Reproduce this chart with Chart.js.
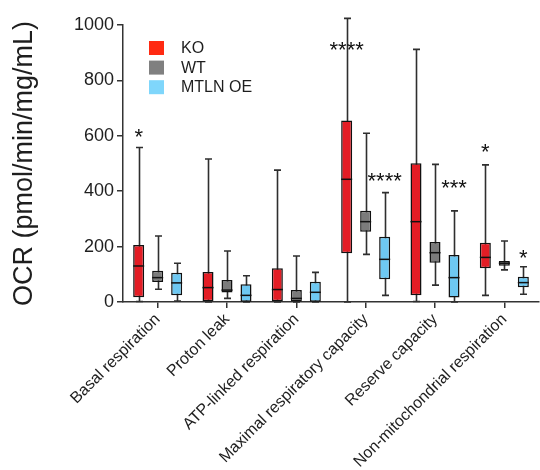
<!DOCTYPE html>
<html>
<head>
<meta charset="utf-8">
<script src="https://cdn.jsdelivr.net/npm/chart.js@4.4.1/dist/chart.umd.min.js"></script>
<style>
  html, body { margin: 0; padding: 0; background: #fff; }
  #wrap { width: 540px; height: 470px; position: relative; }
</style>
</head>
<body>
<div id="wrap"><canvas id="ocr"></canvas></div>
<script>
// --- data (pmol/min/mg/mL) ---
const categories = ["Basal respiration", "Proton leak", "ATP-linked respiration",
  "Maximal respiratory capacity", "Reserve capacity", "Non-mitochondrial respiration"];
const seriesNames = ["KO", "WT", "MTLN OE"];
const boxColors = ["#e31d25", "#7b7b7b", "#6ec8f2"];
const legendColors = ["#ff2a12", "#808080", "#7fd6fb"];

const koMin = [2, 0, 0, 0, 2, 24];
const koQ1 = [17, 0, 0, 176, 24, 122];
const koMed = [130, 52, 45, 443, 290, 161];
const koQ3 = [206, 108, 122, 655, 501, 214];
const koMax = [558, 516, 476, 1024, 912, 495];

const wtMin = [46, 13, 0, 172, 61, 116];
const wtQ1 = [72, 34, 2, 254, 142, 131];
const wtMed = [88, 43, 13, 290, 178, 140];
const wtQ3 = [113, 79, 43, 329, 217, 148];
const wtMax = [238, 184, 166, 609, 497, 220];

const oeMin = [3, 0, 0, 24, 0, 28];
const oeQ1 = [24, 1, 1, 82, 16, 53];
const oeMed = [69, 24, 35, 154, 88, 70];
const oeQ3 = [106, 64, 73, 236, 170, 91];
const oeMax = [140, 95, 107, 395, 329, 127];

const yTicks = [0, 200, 400, 600, 800, 1000];

// significance marks: category index, series index, text, value where the mark sits
const starCat = [0, 3, 3, 4, 5, 5];
const starSeries = [0, 0, 2, 2, 0, 2];
const starText = ["*", "****", "****", "***", "*", "*"];
const starValue = [614, 928, 458, 430, 563, 180];

const stats = [
  { min: koMin, q1: koQ1, med: koMed, q3: koQ3, max: koMax },
  { min: wtMin, q1: wtQ1, med: wtMed, q3: wtQ3, max: wtMax },
  { min: oeMin, q1: oeQ1, med: oeMed, q3: oeQ3, max: oeMax },
];

const FONT = "'Liberation Sans', Arial, sans-serif";
const INK = "#1e1e1e";

// whiskers behind the boxes, medians on top
const boxPlotPlugin = {
  id: "boxPlot",
  beforeDatasetsDraw(chart) {
    const { ctx, scales: { y } } = chart;
    ctx.save();
    ctx.strokeStyle = "#2e2e2e";
    ctx.lineWidth = 1.6;
    stats.forEach((s, di) => {
      chart.getDatasetMeta(di).data.forEach((bar, i) => {
        const x = Math.round(bar.x) + 0.5;
        const yMax = y.getPixelForValue(s.max[i]);
        const yMin = y.getPixelForValue(s.min[i]);
        ctx.beginPath();
        ctx.moveTo(x, yMax); ctx.lineTo(x, yMin);
        ctx.moveTo(x - 3.5, yMax); ctx.lineTo(x + 3.5, yMax);
        ctx.moveTo(x - 3.5, yMin); ctx.lineTo(x + 3.5, yMin);
        ctx.stroke();
      });
    });
    ctx.restore();
  },
  afterDatasetsDraw(chart) {
    const { ctx, scales: { y } } = chart;
    ctx.save();
    ctx.strokeStyle = "#111";
    ctx.lineWidth = 1.5;
    stats.forEach((s, di) => {
      chart.getDatasetMeta(di).data.forEach((bar, i) => {
        const yMed = y.getPixelForValue(s.med[i]);
        ctx.beginPath();
        ctx.moveTo(bar.x - bar.width / 2, yMed);
        ctx.lineTo(bar.x + bar.width / 2, yMed);
        ctx.stroke();
      });
    });
    ctx.restore();
  },
  afterDraw(chart) {
    const { ctx, chartArea, scales: { y } } = chart;
    ctx.save();
    // stars
    ctx.fillStyle = "#111";
    ctx.textAlign = "center";
    ctx.textBaseline = "alphabetic";
    ctx.font = "22px " + FONT;
    starText.forEach((t, k) => {
      const bar = chart.getDatasetMeta(starSeries[k]).data[starCat[k]];
      ctx.fillText(t, bar.x, y.getPixelForValue(starValue[k]) + 12.5);
    });
    // legend
    ctx.textAlign = "left";
    ctx.textBaseline = "middle";
    ctx.font = "16px " + FONT;
    seriesNames.forEach((name, k) => {
      const top = chartArea.top + 16 + k * 19.6;
      ctx.fillStyle = legendColors[k];
      ctx.fillRect(chartArea.left + 26, top, 15, 14);
      ctx.fillStyle = INK;
      ctx.fillText(name, chartArea.left + 58, top + 7.5);
    });
    ctx.restore();
  },
};

const datasets = seriesNames.map((name, k) => ({
  label: name,
  data: stats[k].q1.map((v, i) => [v, stats[k].q3[i]]),
  backgroundColor: boxColors[k],
  borderColor: "#111",
  borderWidth: 1.5,
  borderSkipped: false,
  barPercentage: 0.58,
  categoryPercentage: 0.822,
}));

new Chart(document.getElementById("ocr"), {
  type: "bar",
  data: { labels: categories, datasets },
  plugins: [boxPlotPlugin],
  options: {
    responsive: true,
    maintainAspectRatio: false,
    animation: false,
    layout: { padding: { top: 25, right: 1, left: 0, bottom: 0 } },
    plugins: { legend: { display: false }, tooltip: { enabled: false } },
    scales: {
      x: {
        afterFit(scale) { scale.height = 168; },
        grid: { display: true, offset: false, drawOnChartArea: false, drawTicks: true, tickLength: 6, color: "#333", lineWidth: 1.5 },
        border: { display: true, color: "#333", width: 1.5 },
        ticks: { color: INK, font: { family: FONT, size: 16 }, minRotation: 45, maxRotation: 45, padding: 2, autoSkip: false },
      },
      y: {
        min: 0,
        max: 1000,
        afterFit(scale) { scale.width = 123; },
        afterBuildTicks(scale) { scale.ticks = yTicks.map(v => ({ value: v })); },
        grid: { display: true, drawOnChartArea: false, drawTicks: true, tickLength: 6, color: "#333", lineWidth: 1.5 },
        border: { display: true, color: "#333", width: 1.5 },
        ticks: { color: INK, font: { family: FONT, size: 18 }, padding: 3, callback: v => String(v) },
        title: { display: true, text: "OCR (pmol/min/mg/mL)", color: INK, font: { family: FONT, size: 27 }, padding: { top: 8.8, bottom: 0 } },
      },
    },
  },
});
</script>
</body>
</html>
